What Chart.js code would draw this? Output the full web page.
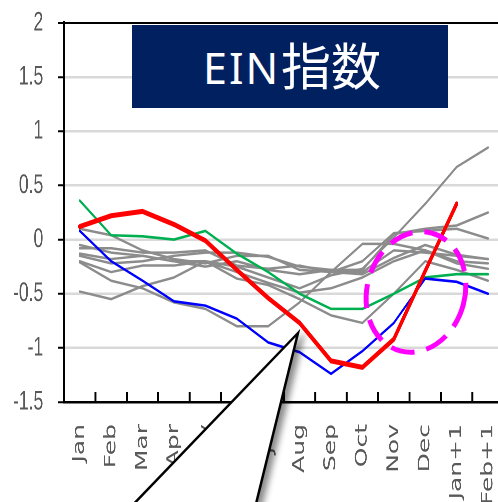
<!DOCTYPE html>
<html>
<head>
<meta charset="utf-8">
<script src="https://cdn.jsdelivr.net/npm/chart.js@4/dist/chart.umd.min.js"></script>
<style>
  html, body { margin: 0; padding: 0; background: #fff; width: 498px; height: 502px; overflow: hidden; position: relative; }
  #stage { position: absolute; left: 0; top: 0; width: 790px; height: 502px; transform: scaleX(0.65); transform-origin: 0 0; }
  #marks { position: absolute; left: 0; top: 0; }
</style>
</head>
<body>
<div id="stage"><canvas id="c" width="790" height="502"></canvas></div>
<svg id="marks" width="498" height="502" viewBox="0 0 498 502">
  <defs>
    <filter id="shade" x="-20%" y="-20%" width="150%" height="150%">
      <feDropShadow dx="5" dy="3" stdDeviation="3" flood-color="#000" flood-opacity="0.45"/>
    </filter>
  </defs>
  <!-- callout pointer -->
  <polygon points="298,333 126,512 254,512" fill="#fff" stroke="#000" stroke-width="2.5" stroke-linejoin="miter" filter="url(#shade)"/>
  <!-- highlight ring around the late-year turn -->
  <ellipse cx="416" cy="292" rx="49" ry="61" transform="rotate(15 416 292)" fill="none" stroke="#ff00ff" stroke-width="5" stroke-dasharray="24 12"/>
  <!-- title panel -->
  <rect x="132" y="25" width="316" height="83" fill="#002060"/>
  <text x="203" y="84" font-family="Noto Sans, DejaVu Sans, sans-serif" font-size="43" fill="#fff" letter-spacing="2">EIN</text>
  <text x="281" y="85" font-family="Noto Sans CJK JP, Noto Sans CJK SC, sans-serif" font-size="50" fill="#fff">指数</text>
</svg>
<script>
// Monthly index path: current season (red), two reference seasons (blue, green) and past seasons (grey)
const categories = ['Jan','Feb','Mar','Apr','May','Jun','Jul','Aug','Sep','Oct','Nov','Dec','Jan+1','Feb+1'];
const yTickValues = [-1.5, -1, -0.5, 0, 0.5, 1, 1.5, 2];

const current = [0.12, 0.22, 0.26, 0.14, -0.01, -0.28, -0.54, -0.77, -1.12, -1.18, -0.92, -0.29, 0.33, null];
const refBlue = [0.08, -0.2, -0.38, -0.57, -0.61, -0.73, -0.95, -1.04, -1.24, -1.03, -0.77, -0.36, -0.39, -0.5];
const refGreen = [0.36, 0.04, 0.03, 0.0, 0.08, -0.13, -0.3, -0.5, -0.64, -0.64, -0.5, -0.35, -0.32, -0.32];

const past1 = [-0.05, -0.12, -0.15, -0.2, -0.2, -0.25, -0.35, -0.45, -0.33, -0.27, 0.02, 0.33, 0.67, 0.85];
const past2 = [-0.15, -0.22, -0.2, -0.15, -0.12, -0.12, -0.16, -0.25, -0.28, -0.28, 0.05, 0.1, 0.13, 0.25];
const past3 = [0.1, 0.04, -0.1, -0.18, -0.22, -0.15, -0.15, -0.28, -0.3, -0.2, 0.06, 0.08, 0.1, 0.01];
const past4 = [-0.13, -0.18, -0.15, -0.2, -0.25, -0.2, -0.28, -0.32, -0.28, -0.3, -0.1, -0.12, -0.15, -0.18];
const past5 = [-0.2, -0.3, -0.24, -0.24, -0.2, -0.3, -0.4, -0.49, -0.45, -0.35, -0.2, -0.1, -0.22, -0.27];
const past6 = [-0.21, -0.38, -0.45, -0.58, -0.64, -0.8, -0.8, -0.58, -0.3, -0.04, -0.04, -0.1, -0.2, -0.22];
const past7 = [-0.48, -0.55, -0.43, -0.35, -0.2, -0.36, -0.42, -0.55, -0.7, -0.77, -0.5, -0.2, -0.28, -0.38];
const past8 = [-0.08, -0.08, -0.12, -0.12, -0.1, -0.24, -0.27, -0.24, -0.3, -0.32, -0.17, -0.05, -0.14, -0.18];

const pastSeasons = [past1, past2, past3, past4, past5, past6, past7, past8];

const line = (data, color, width) => ({
  data, borderColor: color, borderWidth: width, pointRadius: 0, tension: 0,
  fill: false, borderJoinStyle: 'round', borderCapStyle: 'round', spanGaps: false
});

const datasets = [
  line(current, '#ff0000', 5),
  line(refBlue, '#0000ff', 2.6),
  line(refGreen, '#00b050', 2.6),
  ...pastSeasons.map(d => line(d, '#8c8c8c', 2.5))
];

// small inward tick marks between categories on the bottom axis
const innerTicks = {
  id: 'innerTicks',
  afterDraw(chart) {
    const xs = chart.scales.x;
    const area = chart.chartArea;
    const ctx = chart.ctx;
    const step = xs.getPixelForValue(1) - xs.getPixelForValue(0);
    ctx.save();
    ctx.strokeStyle = '#000';
    ctx.lineWidth = 3;
    for (let i = 1; i <= categories.length; i++) {
      const px = xs.getPixelForValue(i) - step / 2;
      ctx.beginPath();
      ctx.moveTo(px, area.bottom);
      ctx.lineTo(px, area.bottom - 10);
      ctx.stroke();
    }
    ctx.restore();
  }
};

new Chart(document.getElementById('c'), {
  type: 'line',
  data: { labels: categories, datasets },
  plugins: [innerTicks],
  options: {
    responsive: false,
    animation: false,
    devicePixelRatio: 2,
    layout: { padding: { left: 0, top: 23, right: 15, bottom: 0 } },
    plugins: { legend: { display: false }, tooltip: { enabled: false } },
    scales: {
      x: {
        type: 'category',
        offset: true,
        grid: { display: false, drawTicks: false },
        border: { display: true, color: '#000', width: 2.5 },
        ticks: {
          autoSkip: false, minRotation: 90, maxRotation: 90, padding: 22,
          color: '#595959', font: { family: 'DejaVu Sans', size: 25 }
        },
        afterFit: s => {
          s.height = 100;
          s.paddingLeft = 0; s.paddingRight = 0; s.paddingTop = 0; s.paddingBottom = 0;
        }
      },
      y: {
        min: -1.5, max: 2,
        afterBuildTicks: s => { s.ticks = yTickValues.map(v => ({ value: v })); },
        grid: {
          color: c => (c.tick && c.tick.value === 2 ? '#000' : '#d9d9d9'),
          lineWidth: c => (c.tick && c.tick.value === 2 ? 2 : 2.5),
          tickColor: '#000', tickLength: 9, tickWidth: 2
        },
        border: { display: true, color: '#000', width: 4 },
        ticks: {
          padding: 23, color: '#595959',
          font: { family: 'Liberation Sans', size: 27 },
          callback: v => String(v)
        },
        afterFit: s => {
          s.width = 98.5;
          s.paddingLeft = 0; s.paddingRight = 0; s.paddingTop = 0; s.paddingBottom = 0;
        }
      }
    }
  }
});
</script>
</body>
</html>
